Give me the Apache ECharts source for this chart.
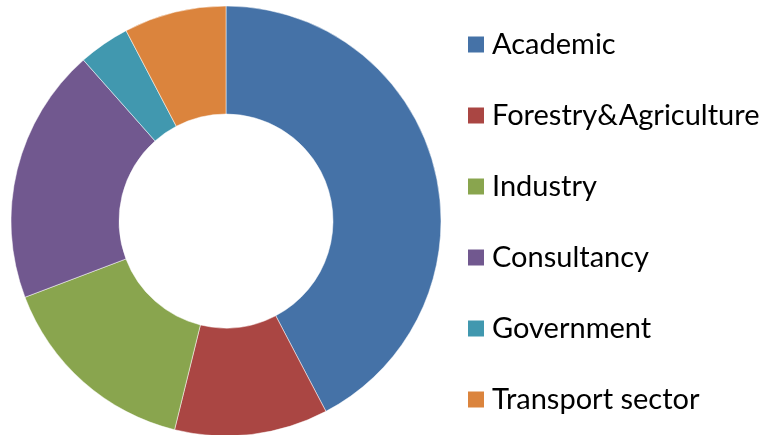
<!DOCTYPE html>
<html>
<head>
<meta charset="utf-8">
<script src="https://cdn.jsdelivr.net/npm/echarts@6/dist/echarts.min.js"></script>
<style>
  html, body { margin: 0; padding: 0; background: #fff; }
  #chart { width: 767px; height: 435px; }
</style>
</head>
<body>
<div id="chart"></div>
<script>
// sectors, clockwise from 12 o'clock
var categories = ['Academic', 'Forestry&Agriculture', 'Industry', 'Consultancy', 'Government', 'Transport sector']
var counts = [11, 3, 4, 5, 1, 2]
var colors = ['#4572A7', '#AA4643', '#89A54E', '#71588F', '#4198AF', '#DB843D']

var chart = echarts.init(document.getElementById('chart'))

var pieData = categories.map(function (name, i) {
  return { name: name, value: counts[i] }
})

chart.setOption({
  animation: false,
  color: colors,
  legend: {
    orient: 'vertical',
    left: 461,
    top: 25,
    padding: 5,
    itemWidth: 18,
    itemHeight: 18,
    itemGap: 42,
    icon: 'rect',
    textStyle: {
      fontFamily: 'Lato',
      fontSize: 29,
      color: '#000',
      padding: [0, 0, 0, 2]
    },
    data: categories
  },
  series: [
    {
      type: 'pie',
      center: [226, 221],
      radius: [107, 215],
      startAngle: 90,
      clockwise: true,
      label: { show: false },
      labelLine: { show: false },
      itemStyle: { borderColor: '#fff', borderWidth: 0.5 },
      emphasis: { disabled: true },
      data: pieData
    }
  ]
})
</script>
</body>
</html>
